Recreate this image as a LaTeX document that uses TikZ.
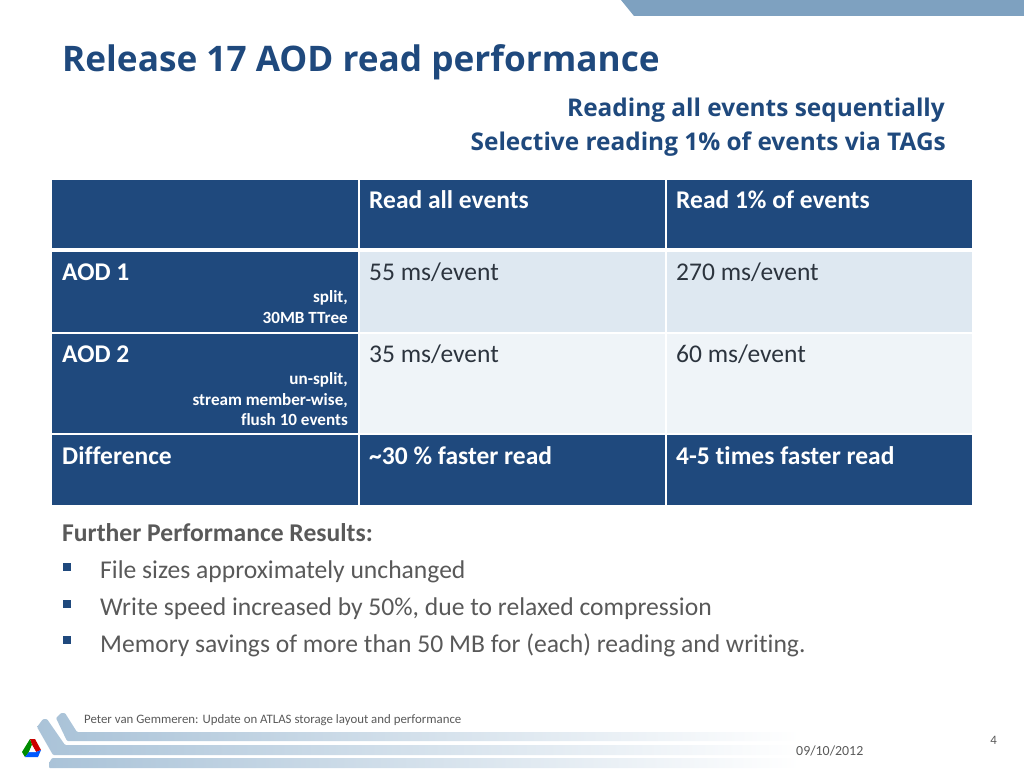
\documentclass[tikz,border=0pt]{standalone}
\usepackage{fontspec}
\setmainfont[Ligatures=CommonOff]{Carlito}
\newfontfamily\titlefont{Open Sans}
\definecolor{headblue}{RGB}{31,73,125}
\definecolor{titleblue}{RGB}{31,73,125}
\definecolor{rowone}{RGB}{222,232,241}
\definecolor{rowtwo}{RGB}{239,244,248}
\definecolor{bodygray}{RGB}{89,89,89}
\definecolor{celldark}{RGB}{44,52,62}
\definecolor{tabblue}{RGB}{126,161,192}
\definecolor{bandblue}{RGB}{170,195,216}
\definecolor{bandmid}{RGB}{205,219,232}
\tikzset{
  headcell/.style={fill=headblue,draw=none},
  bandfade/.style={left color=bandblue,middle color=bandmid,right color=white},
  cellhead/.style={anchor=base west,inner sep=0pt,text=white,font=\fontsize{25.5}{25.5}\selectfont\bfseries},
  cellnote/.style={anchor=base east,inner sep=0pt,text=white,font=\fontsize{17.1}{17.1}\selectfont\bfseries},
  cellbody/.style={anchor=base west,inner sep=0pt,text=celldark,font=\fontsize{25.5}{25.5}\selectfont},
  bodyline/.style={anchor=base west,inner sep=0pt,text=bodygray,font=\fontsize{25.6}{25.6}\selectfont},
  toptitle/.style={anchor=base east,inner sep=0pt,text=titleblue,font=\titlefont\fontsize{24.4}{24.4}\selectfont\bfseries},
  bulletmark/.style={fill=headblue,draw=none}
}
\begin{document}
\begin{tikzpicture}[x=1pt,y=-1pt]
\useasboundingbox (0,0) rectangle (1024,768);

% Corner tab at the top
\fill [tabblue] (621,0) -- (634,16) -- (1024,16) -- (1024,0) -- cycle;

% Bands of the footer
\shade [bandfade,rounded corners=1pt] (56,718) -- (61,713) -- (65,713) -- (77,732) -- (800,732) -- (800,741) -- (67,741) -- cycle;
\shade [bandfade,rounded corners=1pt] (37,727) -- (43,719) -- (47,719) -- (65,745) -- (800,745) -- (800,755) -- (53,755) -- cycle;
\shade [bandfade,rounded corners=1pt] (49,768) -- (49,763) -- (52,758) -- (800,758) -- (800,768) -- cycle;

% Logo
\fill [red!80!black] (30,739) -- (35,739) -- (41,750) -- (36,752) -- (32,745) -- cycle;
\fill [green!55!black] (30,739) -- (22,752) -- (25,757) -- (29,752) -- (32,745) -- cycle;
\fill [blue!65!cyan] (25,757) -- (38,757) -- (41,750) -- (36,752) -- (29,752) -- cycle;
\fill [white] (32,745) -- (29,752) -- (36,752) -- cycle;

% Titles
\node [anchor=base west,inner sep=0pt,text=titleblue,font=\titlefont\fontsize{35.2}{35.2}\selectfont\bfseries] (slidetitle) at (62,71) {Release 17 AOD read performance};
\node [toptitle] (titleall) at (945,116) {Reading all events sequentially};
\node [toptitle] (titletags) at (946,150) {Selective reading 1\% of events via TAGs};

% Table cells
\fill [headcell] (52,180) rectangle (358,248);
\fill [headcell] (359.5,180) rectangle (665,248);
\fill [headcell] (666.5,180) rectangle (972,248);
\fill [headcell] (52,252) rectangle (358,332);
\fill [rowone] (359.5,252) rectangle (665,332);
\fill [rowone] (666.5,252) rectangle (972,332);
\fill [headcell] (52,334) rectangle (358,433);
\fill [rowtwo] (359.5,334) rectangle (665,433);
\fill [rowtwo] (666.5,334) rectangle (972,433);
\fill [headcell] (52,435) rectangle (358,505);
\fill [headcell] (359.5,435) rectangle (665,505);
\fill [headcell] (666.5,435) rectangle (972,505);

% Table texts
\node [cellhead] (headall) at (369,208) {Read all events};
\node [cellhead] (headone) at (676,208) {Read 1\% of events};
\node [cellhead] (aodone) at (62,280) {AOD 1};
\node [cellnote] (noteonea) at (348,302) {split,};
\node [cellnote] (noteoneb) at (348,323) {30MB TTree};
\node [cellbody] (aodoneall) at (369,280) {55 ms/event};
\node [cellbody] (aodonesel) at (676,280) {270 ms/event};
\node [cellhead] (aodtwo) at (62,362) {AOD 2};
\node [cellnote] (notetwoa) at (348,384) {un-split,};
\node [cellnote] (notetwob) at (348,405) {stream member-wise,};
\node [cellnote] (notetwoc) at (348,425) {flush 10 events};
\node [cellbody] (aodtwoall) at (369,362) {35 ms/event};
\node [cellbody] (aodtwosel) at (676,362) {60 ms/event};
\node [cellhead] (diffname) at (62,464) {Difference};
\node [cellhead] (diffall) at (369,464) {\textasciitilde 30 \% faster read};
\node [cellhead] (diffsel) at (676,464) {4-5 times faster read};

% Results below the table
\node [bodyline,font=\fontsize{25.6}{25.6}\selectfont\bfseries] (furtherhead) at (62,541) {Further Performance Results:};
\fill [bulletmark] (63,563) rectangle (71,571);
\node [bodyline] (resultone) at (100,578) {File sizes approximately unchanged};
\fill [bulletmark] (63,600) rectangle (71,608);
\node [bodyline] (resulttwo) at (100,615) {Write speed increased by 50\%, due to relaxed compression};
\fill [bulletmark] (63,636) rectangle (71,644);
\node [bodyline] (resultthree) at (100,652) {Memory savings of more than 50 MB for (each) reading and writing.};

% Footer texts
\node [anchor=base west,inner sep=0pt,text=bodygray,font=\fontsize{12.85}{12.85}\selectfont] (footname) at (84,723) {Peter van Gemmeren: Update on ATLAS storage layout and performance};
\node [anchor=base west,inner sep=0pt,text=bodygray,font=\fontsize{13.9}{13.9}\selectfont] (footdate) at (796,755) {09/10/2012};
\node [anchor=base east,inner sep=0pt,text=bodygray,font=\fontsize{12.85}{12.85}\selectfont] (footpage) at (997,744) {4};
\end{tikzpicture}
\end{document}
